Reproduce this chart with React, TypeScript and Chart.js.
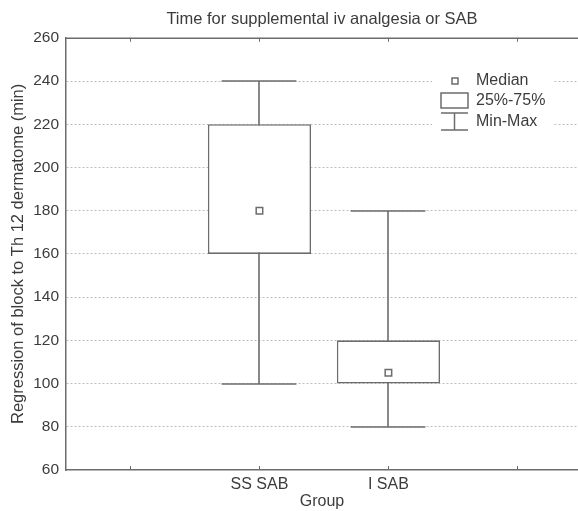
import React, { useEffect, useRef } from "react";
import { Chart, registerables } from "chart.js";
Chart.register(...registerables);

const categories = ["", "SS SAB", "I SAB", ""];
const groups = ["SS SAB", "I SAB"];
const minValues = [100, 80];
const q1Values = [160, 100];
const medianValues = [180, 105];
const q3Values = [220, 120];
const maxValues = [240, 180];
const yTickValues = [60, 80, 100, 120, 140, 160, 180, 200, 220, 240, 260];
const legendLabels = ["Median", "25%-75%", "Min-Max"];
const titleText = "Time for supplemental iv analgesia or SAB";
const xTitle = "Group";
const yTitle = "Regression of block to Th 12 dermatome (min)";

const LINE = "#6c6c6c";
const TEXT = "#3c3c3c";
const GRID = "#bdbdbd";
const FONT = "'Liberation Sans', Arial, sans-serif";

const groupX = groups.map((g) => categories.indexOf(g) + 1);

const boxPlugin = {
  id: "boxExtras",
  beforeDatasetsDraw(chart: any) {
    const { ctx, chartArea, scales } = chart;
    const xs = scales.x;
    const ys = scales.y;
    ctx.save();
    ctx.strokeStyle = LINE;
    ctx.lineWidth = 1.5;
    ctx.beginPath();
    ctx.moveTo(chartArea.left, chartArea.top + 0.5);
    ctx.lineTo(chartArea.right, chartArea.top + 0.5);
    ctx.stroke();
    ctx.lineWidth = 1;
    xs.ticks.forEach((t: any) => {
      const px = Math.round(xs.getPixelForValue(t.value)) + 0.5;
      ctx.beginPath();
      ctx.moveTo(px, chartArea.bottom);
      ctx.lineTo(px, chartArea.bottom - 4);
      ctx.moveTo(px, chartArea.top);
      ctx.lineTo(px, chartArea.top + 4);
      ctx.stroke();
    });
    ctx.lineWidth = 1.6;
    groups.forEach((_, i) => {
      const cx = Math.round(xs.getPixelForValue(groupX[i]));
      const half = xs.getPixelForValue(groupX[i] + 0.29) - xs.getPixelForValue(groupX[i]);
      const yMax = Math.round(ys.getPixelForValue(maxValues[i]));
      const yMin = Math.round(ys.getPixelForValue(minValues[i]));
      ctx.beginPath();
      ctx.moveTo(cx, yMax);
      ctx.lineTo(cx, yMin);
      ctx.moveTo(cx - half, yMax);
      ctx.lineTo(cx + half, yMax);
      ctx.moveTo(cx - half, yMin);
      ctx.lineTo(cx + half, yMin);
      ctx.stroke();
    });
    ctx.restore();
  },
  afterDraw(chart: any) {
    const { ctx } = chart;
    ctx.save();
    ctx.fillStyle = "#ffffff";
    ctx.fillRect(432, 68, 122, 68);
    ctx.strokeStyle = LINE;
    ctx.lineWidth = 1.5;
    ctx.fillStyle = "#ffffff";
    ctx.fillRect(452, 78, 6, 6);
    ctx.strokeRect(452, 78, 6, 6);
    ctx.strokeRect(441, 93, 27, 15);
    ctx.beginPath();
    ctx.moveTo(441, 113);
    ctx.lineTo(468, 113);
    ctx.moveTo(454.5, 113);
    ctx.lineTo(454.5, 130);
    ctx.moveTo(441, 130);
    ctx.lineTo(468, 130);
    ctx.stroke();
    ctx.fillStyle = TEXT;
    ctx.font = `16px ${FONT}`;
    ctx.textAlign = "left";
    ctx.textBaseline = "middle";
    ctx.fillText(legendLabels[0], 476, 81);
    ctx.fillText(legendLabels[1], 476, 101);
    ctx.fillText(legendLabels[2], 476, 122);
    ctx.restore();
  },
};

export default function App() {
  const ref = useRef<HTMLCanvasElement | null>(null);
  useEffect(() => {
    if (!ref.current) return;
    const chart = new Chart(ref.current, {
      type: "bar",
      data: {
        datasets: [
          {
            type: "scatter",
            label: "Median",
            data: groups.map((_, i) => ({ x: groupX[i], y: medianValues[i] })),
            pointStyle: "rect",
            pointRadius: 4.6,
            pointBackgroundColor: "#ffffff",
            pointBorderColor: LINE,
            pointBorderWidth: 1.5,
            order: 0,
          } as any,
          {
            type: "bar",
            label: "25%-75%",
            data: groups.map((_, i) => ({ x: groupX[i], y: [q1Values[i], q3Values[i]] })),
            backgroundColor: "#ffffff",
            borderColor: LINE,
            borderWidth: 1.6,
            borderSkipped: false,
            barPercentage: 0.8,
            categoryPercentage: 1,
            order: 1,
          } as any,
        ],
      },
      options: {
        animation: false,
        responsive: false,
        devicePixelRatio: 1,
        events: [],
        layout: { autoPadding: false, padding: { left: 0, right: 0, top: 0, bottom: 0 } },
        plugins: {
          legend: { display: false },
          tooltip: { enabled: false },
          title: {
            display: true,
            text: titleText,
            fullSize: false,
            color: TEXT,
            font: { family: FONT, size: 16.5, weight: "normal" },
            padding: { top: 10, bottom: 8 },
          },
        },
        scales: {
          x: {
            type: "linear",
            min: 0.5,
            max: 4.47,
            offset: false,
            afterBuildTicks: (s: any) => {
              s.ticks = categories.map((_, i) => ({ value: i + 1 }));
            },
            afterFit: (s: any) => {
              s.height = 41;
              s.paddingLeft = 0;
              s.paddingRight = 0;
            },
            grid: { display: false, drawTicks: false },
            border: { display: true, color: LINE, width: 1.5 },
            ticks: {
              autoSkip: false,
              maxRotation: 0,
              padding: 5,
              color: TEXT,
              font: { family: FONT, size: 16 },
              callback: (v: any) => categories[Math.round(v) - 1] ?? "",
            },
            title: {
              display: true,
              text: xTitle,
              color: TEXT,
              font: { family: FONT, size: 16 },
              padding: { top: 0, bottom: 0 },
            },
          },
          y: {
            type: "linear",
            min: 60,
            max: 260,
            afterBuildTicks: (s: any) => {
              s.ticks = yTickValues.map((v) => ({ value: v }));
            },
            afterFit: (s: any) => {
              s.width = 66;
            },
            grid: {
              drawTicks: false,
              color: (c: any) =>
                c.tick && (c.tick.value === 60 || c.tick.value === 260) ? "rgba(0,0,0,0)" : GRID,
              lineWidth: 1,
            },
            border: { display: true, color: LINE, width: 1.5, dash: [2, 2] },
            ticks: {
              padding: 7,
              color: TEXT,
              font: { family: FONT, size: 15.5 },
            },
            title: {
              display: true,
              text: yTitle,
              color: TEXT,
              font: { family: FONT, size: 16.5 },
              padding: { top: 9, bottom: 0 },
            },
          },
        },
      },
      plugins: [boxPlugin],
    } as any);
    return () => chart.destroy();
  }, []);
  return (
    <div style={{ position: "fixed", left: 0, top: 0, width: 578, height: 511, background: "#fff" }}>
      <canvas ref={ref} width={578} height={511} />
    </div>
  );
}
